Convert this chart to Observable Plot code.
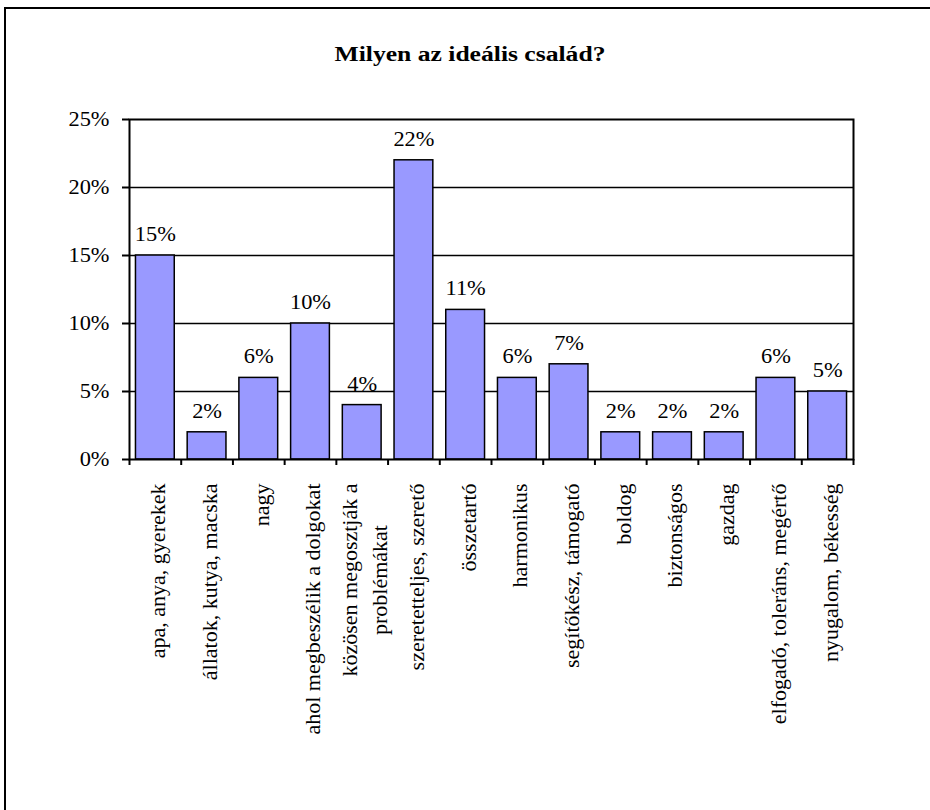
<!DOCTYPE html>
<html>
<head>
<meta charset="utf-8">
<script src="https://cdn.jsdelivr.net/npm/d3@7"></script>
<script src="https://cdn.jsdelivr.net/npm/@observablehq/plot@0.6"></script>
<style>
  html, body { margin: 0; padding: 0; background: #fff; overflow: hidden; }
  #wrap { position: relative; width: 930px; height: 810px; overflow: hidden; background: #fff; }
  #border { position: absolute; left: 4px; top: 7px; width: 1200px; height: 1200px; border: 2px solid #000; box-sizing: border-box; }
  #title { position: absolute; left: 0; width: 940px; top: 42px; text-align: center; white-space: nowrap;
           font: bold 20px "Liberation Serif", "Times New Roman", serif; line-height: 24px;
           transform: scaleX(1.28); transform-origin: 470px 0; }
  #chart { position: absolute; left: 0; top: 0; }
</style>
</head>
<body>
<div id="wrap">
  <div id="border"></div>
  <div id="chart"></div>
  <div id="title">Milyen az ideális család?</div>
</div>
<script>
const categories = [
  "apa, anya, gyerekek",
  "állatok, kutya, macska",
  "nagy",
  "ahol megbeszélik a dolgokat",
  "közösen megosztják a\nproblémákat",
  "szeretetteljes, szerető",
  "összetartó",
  "harmonikus",
  "segítőkész, támogató",
  "boldog",
  "biztonságos",
  "gazdag",
  "elfogadó, toleráns, megértő",
  "nyugalom, békesség"
];
const values = [15, 2, 6, 10, 4, 22, 11, 6, 7, 2, 2, 2, 6, 5];
const yTicks = [0, 5, 10, 15, 20, 25];
const gridLines = [5, 10, 15, 20];

const data = categories.map((label, i) => ({ i, label, value: values[i] }));
const bandBounds = categories.map((_, i) => i - 0.5).concat([categories.length - 0.5]);
const half = 0.375;

const plot = Plot.plot({
  width: 930,
  height: 810,
  marginLeft: 129,
  marginRight: 77,
  marginTop: 119,
  marginBottom: 351,
  style: { fontFamily: '"Liberation Serif", "Times New Roman", serif', background: "transparent", color: "#000", overflow: "visible" },
  x: { type: "linear", domain: [-0.5, categories.length - 0.5] },
  y: { domain: [0, 25] },
  marks: [
    Plot.ruleY(gridLines, { stroke: "#000", strokeWidth: 1.5 }),
    Plot.rectY(data, { x1: d => d.i - half, x2: d => d.i + half, y1: 0, y2: "value", fill: "#9999FF", stroke: "#000", strokeWidth: 1.5 }),
    Plot.frame({ stroke: "#000", strokeWidth: 2 }),
    Plot.axisY({ ticks: yTicks, tickFormat: d => d + "%", tickSize: 7, tickPadding: 13, fontSize: 20, strokeWidth: 2, label: null }),
    Plot.axisX({ ticks: bandBounds, tickFormat: () => "", tickSize: 6, strokeWidth: 2, label: null }),
    Plot.axisX({ ticks: data.map(d => d.i), tickFormat: i => categories[i], tickSize: 0, tickPadding: 24, tickRotate: -90,
                 textAnchor: "end", lineAnchor: "middle", fontSize: 22, lineHeight: 1.4, label: null }),
    Plot.text(data, { x: "i", y: "value", text: d => d.value + "%", dy: -21, fontSize: 20, lineAnchor: "middle", fill: "#000" })
  ]
});

document.getElementById("chart").append(plot);

// Slight horizontal stretch of the upright lettering, as in the original chart;
// centre the lines of the two-line category label.
const S = 1.12;
plot.querySelectorAll("text").forEach(t => {
  const tr = t.getAttribute("transform") || "";
  if (tr.includes("rotate")) {
    const spans = t.querySelectorAll("tspan");
    if (spans.length > 1) {
      let m = 0;
      spans.forEach(s => { m = Math.max(m, s.getComputedTextLength()); });
      t.setAttribute("text-anchor", "middle");
      spans.forEach(s => s.setAttribute("x", -m / 2));
    }
  } else if (tr) {
    t.setAttribute("transform", tr + ` scale(${S},1)`);
  } else {
    const x = +t.getAttribute("x") || 0, y = +t.getAttribute("y") || 0;
    t.setAttribute("transform", `translate(${x},${y}) scale(${S},1) translate(${-x},${-y})`);
  }
});
</script>
</body>
</html>
